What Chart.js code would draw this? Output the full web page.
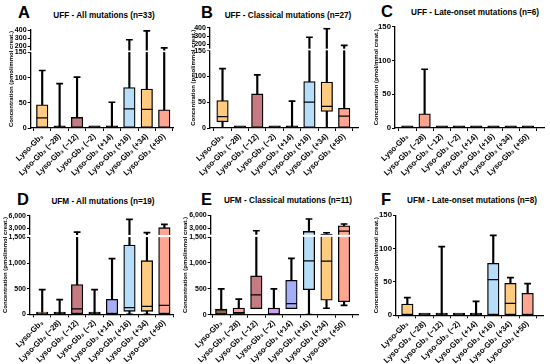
<!DOCTYPE html>
<html>
<head>
<meta charset="utf-8">
<script src="https://cdn.jsdelivr.net/npm/chart.js@4.4.0/dist/chart.umd.min.js"></script>
<style>
body { margin: 0; background: #fff; width: 550px; height: 364px; position: relative; overflow: hidden; font-family: 'Liberation Sans', Arial, sans-serif; }
canvas { position: absolute; }
.letter { position: absolute; font-weight: bold; font-size: 16.5px; line-height: 16px; }
.title { position: absolute; font-weight: bold; font-size: 8.2px; line-height: 9px; white-space: nowrap; transform: translateX(-50%); }
</style>
</head>
<body>
<div id="wrap"></div>
<script>
const labels = ['Lyso-Gb₃', 'Lyso-Gb₃ (−28)', 'Lyso-Gb₃ (−12)', 'Lyso-Gb₃ (−2)',
    'Lyso-Gb₃ (+14)', 'Lyso-Gb₃ (+16)', 'Lyso-Gb₃ (+34)', 'Lyso-Gb₃ (+50)'];

// A - UFF all mutations
const aMin = [0, 0, 0, 0, 0, 0, 0, 0];
const aQ1  = [0, 0, 0, 0, 0, 0, 0, 0];
const aMed = [20, null, null, null, null, 38, 37, null];
const aQ3  = [46, 1, 21, 1, 1, 80, 77, 36];
const aMax = [114, 88, 101, 1, 51, 280, 390, 180];

// B - UFF classical
const bMin = [0, 0, 0, 0, 0, 0, 0, 0];
const bQ1  = [12, 0, 0, 0, 0, 0, 32, 0];
const bMed = [22, null, null, null, null, 50, 42, 23];
const bQ3  = [53, 1, 66, 1, 1, 90, 89, 38];
const bMax = [115, 1, 103, 1, 52, 285, 390, 187];

// C - UFF late-onset
const cMin = [0, 0, 0, 0, 0, 0, 0, 0];
const cQ1  = [0, 0, 0, 0, 0, 0, 0, 0];
const cMed = [null, null, null, null, null, null, null, null];
const cQ3  = [1, 21, 1, 1, 1, 1, 1, 1];
const cMax = [1, 87, 1, 1, 1, 1, 1, 1];

// D - UFM all mutations
const dMin = [0, 0, 0, 0, 0, 0, 0, 0];
const dQ1  = [0, 0, 0, 0, 0, 58, 58, 0];
const dMed = [null, null, 104, null, null, 130, 156, 175];
const dQ3  = [45, 26, 578, 10, 292, 1350, 1045, 3160];
const dMax = [480, 285, 2130, 480, 1084, 5130, 1975, 3950];

// E - UFM classical
const eMin = [0, 0, 115, 0, 115, 0, 125, 180];
const eQ1  = [0, 0, 115, 0, 115, 485, 280, 250];
const eMed = [95, 40, 385, null, 215, 1040, 1035, 2290];
const eQ3  = [110, 130, 750, 130, 665, 2210, 1600, 3550];
const eMax = [500, 300, 2370, 500, 1090, 5130, 1900, 3950];

// F - UFM late-onset
const fMin = [0, 0, 0, 0, 0, 0, 0, 0];
const fQ1  = [0, 0, 0, 0, 0, 0, 0, 0];
const fMed = [null, null, null, null, null, 53.5, 18, null];
const fQ3  = [17, 1, 1, 1, 1, 78, 48, 33];
const fMax = [26.5, 1, 103, 1, 21, 120, 56.5, 47.5];

const ticksLo = [0, 50, 100, 150, 200, 300, 400];
const ticksHi = [0, 500, 1000, 1500, 3000, 6000];
const ticksPlain = [0, 50, 100, 150];

const palette = ['#FFCB80', '#F9A38F', '#C67B83', '#CFA0EE', '#A6AEF7', '#B6DEF8', '#FFCB80', '#FFA592'];
const paletteUfm = ['#8C6A3F', '#F9A38F', '#C67B83', '#CFA0EE', '#A6AEF7', '#B6DEF8', '#FFCB80', '#FFA592'];

// broken y axis: value -> display coordinate
const axes = {
    lo:    { brk: 150, gap: 4, k: 0.161, top: 400, ticks: ticksLo },
    hi:    { brk: 1500, gap: 52, k: 0.0823, top: 6000, ticks: ticksHi },
    plain: { brk: Infinity, gap: 0, k: 1, top: 150, ticks: ticksPlain },
};
function disp(ax, v) {
    return v <= ax.brk ? v : ax.brk + ax.gap + (v - ax.brk) * ax.k;
}

const panels = [
    { letter: 'A', title: 'UFF - All mutations (n=33)', min: aMin, q1: aQ1, med: aMed, q3: aQ3, max: aMax, ax: 'lo', colors: palette,
      box: [0, 0, 180, 182], plot: [30.7, 175, 30, 128], xr: [-0.66, 7.51], lt: [18, 4], tt: [104, 10.5], padL: 8, fs: 7.1 },
    { letter: 'B', title: 'UFF - Classical mutations (n=27)', min: bMin, q1: bQ1, med: bMed, q3: bQ3, max: bMax, ax: 'lo', colors: palette,
      box: [180, 0, 185, 182], plot: [210, 361.5, 27.7, 128], xr: [-0.72, 7.8], lt: [201, 4], tt: [288, 10.5], padL: 10, fs: 7.1 },
    { letter: 'C', title: 'UFF - Late-onset mutations (n=6)', min: cMin, q1: cQ1, med: cMed, q3: cQ3, max: cMax, ax: 'plain', colors: palette,
      box: [365, 0, 185, 182], plot: [395, 548, 26.7, 128], xr: [-0.72, 7.95], lt: [381, 3], tt: [475, 7.5], padL: 8, fs: 7.8 },
    { letter: 'D', title: 'UFM - All mutations (n=19)', min: dMin, q1: dQ1, med: dMed, q3: dQ3, max: dMax, ax: 'hi', colors: paletteUfm,
      box: [0, 182, 180, 182], plot: [30, 175, 215.7, 314.3], xr: [-0.7, 7.5], lt: [17, 191], tt: [103, 197], padL: 2, fs: 7 },
    { letter: 'E', title: 'UFM - Classical mutations (n=11)', min: eMin, q1: eQ1, med: eMed, q3: eQ3, max: eMax, ax: 'hi', colors: paletteUfm,
      box: [180, 182, 185, 182], plot: [210.7, 361.7, 215.3, 314.7], xr: [-0.6, 7.8], lt: [201, 191], tt: [288, 196], padL: 2, fs: 7 },
    { letter: 'F', title: 'UFM - Late-onset mutations (n=8)', min: fMin, q1: fQ1, med: fMed, q3: fQ3, max: fMax, ax: 'plain', colors: palette,
      box: [365, 182, 185, 182], plot: [396, 547.7, 215.3, 315.3], xr: [-0.66, 7.9], lt: [381, 191], tt: [472, 196], padL: 8, fs: 7.8 },
];

Chart.defaults.font.family = "'Liberation Sans', Arial, sans-serif";
Chart.defaults.color = '#000';

const breakBand = {
    id: 'breakBand',
    afterDraw(chart, args, opts) {
        if (!isFinite(opts.brk)) return;
        const y = chart.scales.y, a = chart.chartArea, ctx = chart.ctx;
        const y1 = y.getPixelForValue(opts.brk + opts.gap * 0.9);
        const y2 = y.getPixelForValue(opts.brk + opts.gap * 0.1);
        ctx.save();
        ctx.fillStyle = '#fff';
        ctx.fillRect(a.left - 5, y1, a.right - a.left + 5, y2 - y1);
        ctx.restore();
    }
};

const fmt = v => v.toLocaleString('en-US');
const wrap = document.getElementById('wrap');

panels.forEach(p => {
    const ax = axes[p.ax];
    const [bx, by, bw, bh] = p.box;
    const [pl, pr, pt, pb] = p.plot;

    const letter = document.createElement('div');
    letter.className = 'letter';
    letter.textContent = p.letter;
    letter.style.left = p.lt[0] + 'px'; letter.style.top = p.lt[1] + 'px';
    wrap.appendChild(letter);
    const title = document.createElement('div');
    title.className = 'title';
    title.textContent = p.title;
    title.style.left = p.tt[0] + 'px'; title.style.top = p.tt[1] + 'px';
    wrap.appendChild(title);

    const canvas = document.createElement('canvas');
    canvas.width = bw; canvas.height = bh;
    canvas.style.left = bx + 'px'; canvas.style.top = by + 'px';
    canvas.style.width = bw + 'px'; canvas.style.height = bh + 'px';
    wrap.appendChild(canvas);

    const idx = labels.map((_, i) => i);
    const boxes = idx.map(i => ({ x: i, y: [disp(ax, p.q1[i]), disp(ax, p.q3[i])] }));
    // near-zero boxes collapse to a black bar, as in the original
    const fills = idx.map(i => (p.q3[i] - p.q1[i] <= ax.top / 150 ? '#000' : p.colors[i]));
    const whiskers = idx.filter(i => p.max[i] > p.q3[i] || p.min[i] < p.q1[i])
        .map(i => ({ x: i, y: [disp(ax, p.min[i]), disp(ax, p.max[i])] }));
    const caps = [];
    idx.forEach(i => {
        if (p.max[i] > p.q3[i]) caps.push({ x: i, y: disp(ax, p.max[i]) });
        if (p.min[i] < p.q1[i]) caps.push({ x: i, y: disp(ax, p.min[i]) });
    });
    const meds = idx.filter(i => p.med[i] !== null).map(i => ({ x: i, y: disp(ax, p.med[i]) }));

    new Chart(canvas, {
        type: 'bar',
        data: {
            datasets: [
                { type: 'line', data: meds, showLine: false, pointStyle: 'line', pointRadius: 5.6,
                  pointBorderWidth: 1.3, pointBorderColor: '#000', order: 0 },
                { type: 'line', data: caps, showLine: false, pointStyle: 'line', pointRadius: 3.4,
                  pointBorderWidth: 1.7, pointBorderColor: '#000', order: 0 },
                { data: boxes, backgroundColor: fills, borderColor: '#000', borderWidth: 1.3,
                  borderSkipped: false, barThickness: 11.5, minBarLength: 2.2, grouped: false, order: 1 },
                { data: whiskers, backgroundColor: '#000', borderWidth: 0, barThickness: 1.5,
                  grouped: false, order: 3 },
            ]
        },
        options: {
            responsive: false,
            animation: false,
            events: [],
            layout: { padding: { left: p.padL, top: pt - by, right: bx + bw - pr, bottom: 0 } },
            plugins: {
                legend: { display: false },
                tooltip: { enabled: false },
                breakBand: { brk: ax.brk, gap: ax.gap },
            },
            scales: {
                x: {
                    type: 'linear', offset: false, min: p.xr[0], max: p.xr[1],
                    afterBuildTicks: s => { s.ticks = idx.map(v => ({ value: v })); },
                    afterFit: s => { s.height = by + bh - pb; },
                    ticks: { callback: v => labels[v], minRotation: 45, maxRotation: 45, autoSkip: false,
                             padding: 1, font: { size: 7.8, weight: 'bold' }, color: '#000' },
                    grid: { drawOnChartArea: false, tickLength: 3, color: '#000', lineWidth: 1 },
                    border: { color: '#000', width: 1.3 },
                },
                y: {
                    type: 'linear', min: 0, max: disp(ax, ax.top),
                    afterBuildTicks: s => { s.ticks = ax.ticks.map(v => ({ value: disp(ax, v) })); },
                    afterFit: s => { s.width = pl - bx - p.padL; },
                    ticks: { callback: (v, i) => fmt(ax.ticks[i]), padding: 1, font: { size: p.fs, weight: 'bold' }, color: '#000' },
                    grid: { drawOnChartArea: false, tickLength: 3, color: '#000', lineWidth: 1 },
                    border: { color: '#000', width: 1.3 },
                    title: { display: true, text: 'Concentration (pmol/mmol creat.)', font: { size: 6, weight: 'bold' },
                             color: '#000', padding: { top: 0, bottom: 2 } },
                },
            },
        },
        plugins: [breakBand],
    });
});
</script>
</body>
</html>
